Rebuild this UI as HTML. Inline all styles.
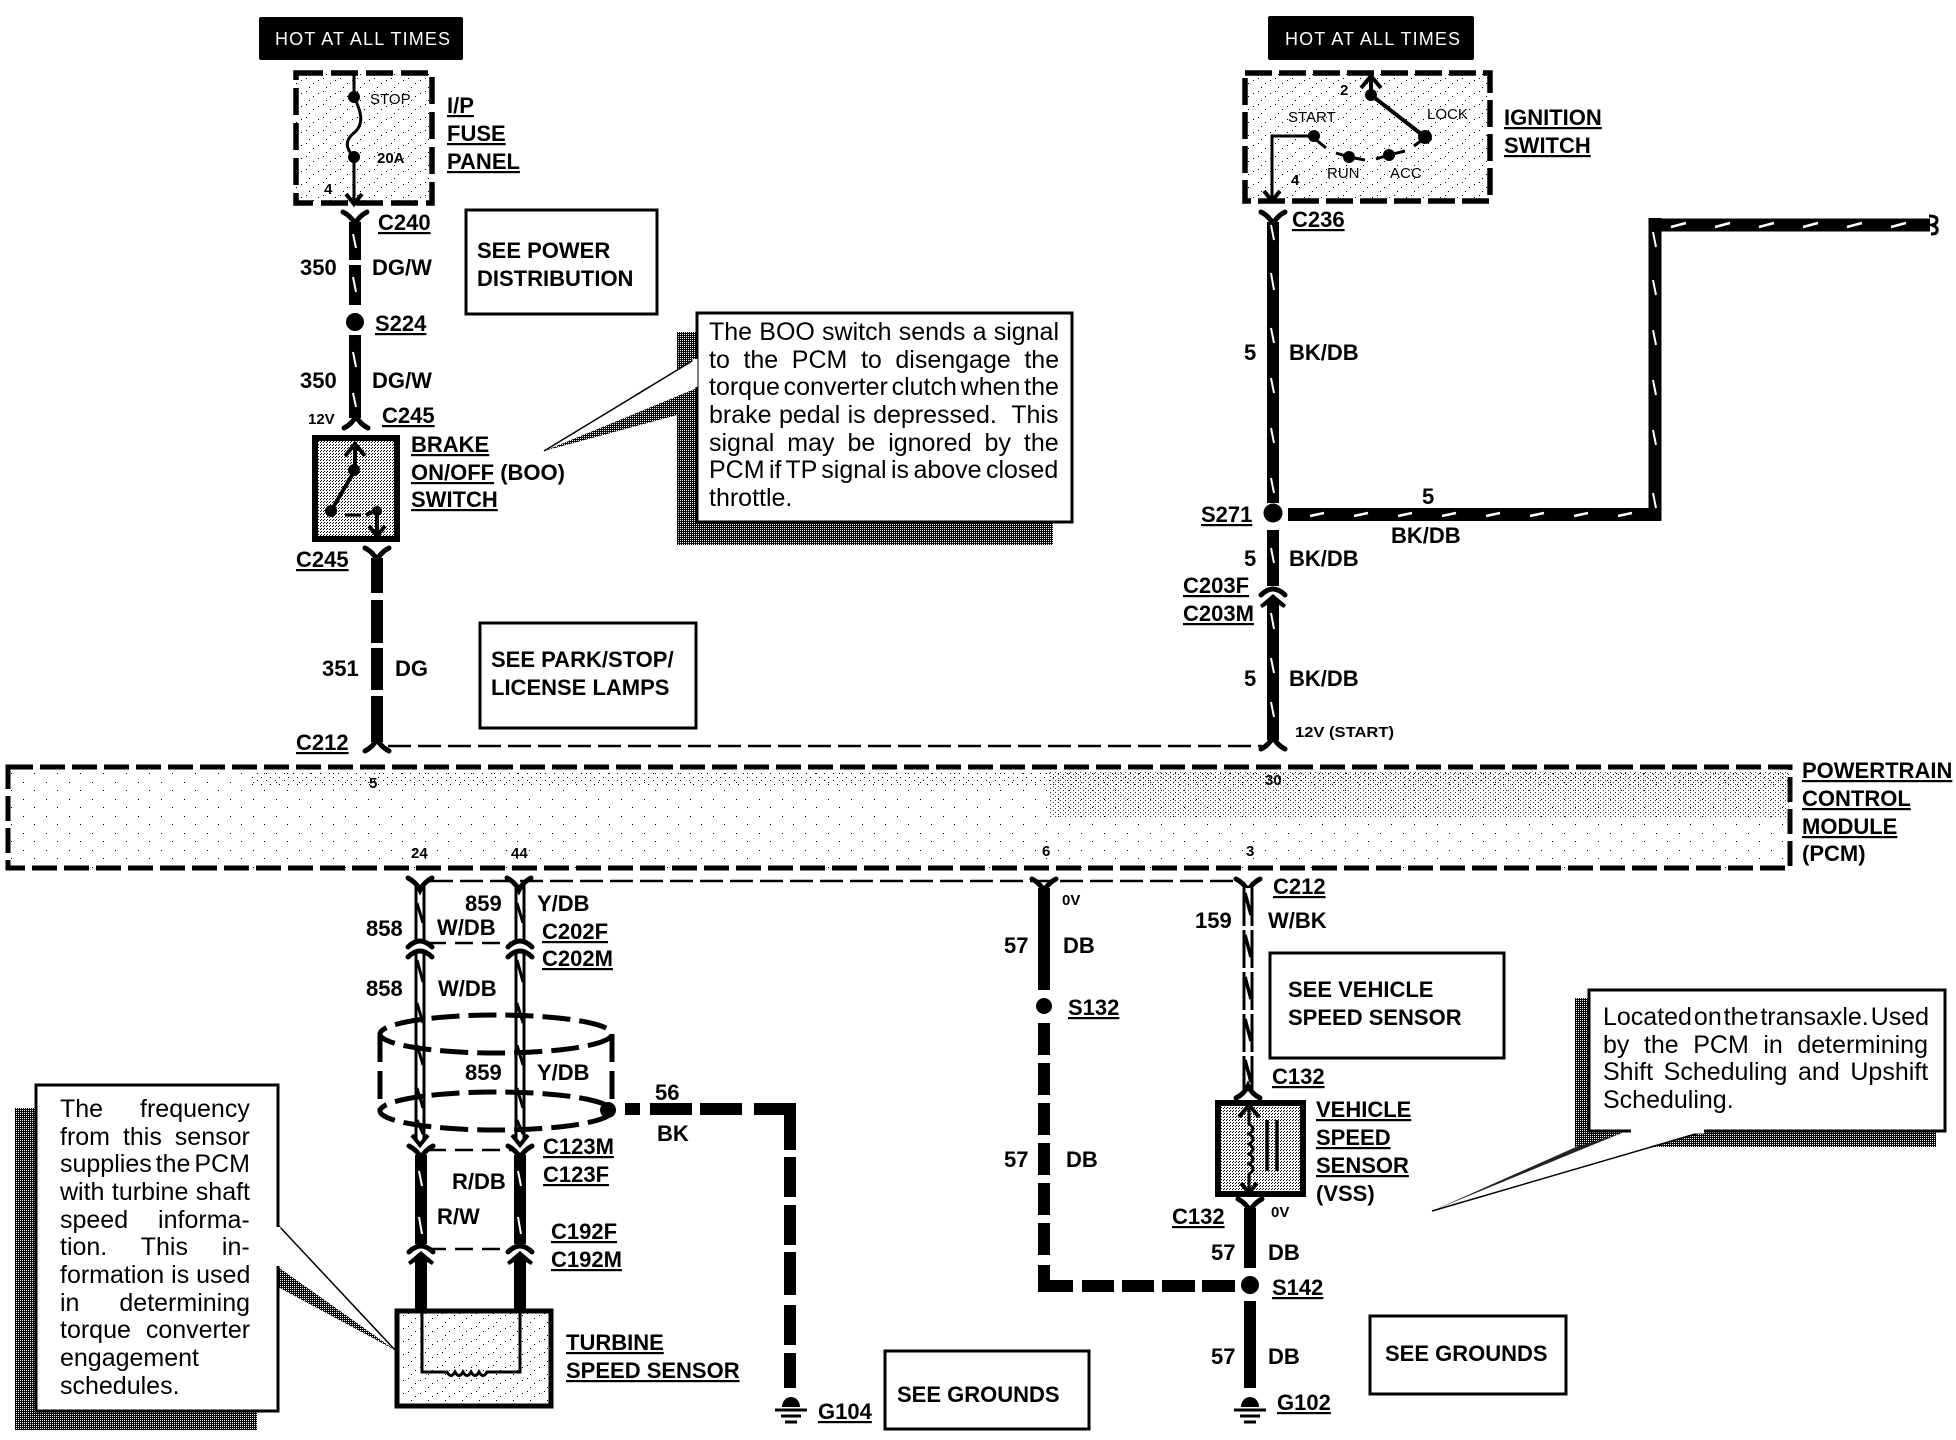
<!DOCTYPE html>
<html>
<head>
<meta charset="utf-8">
<title>Wiring diagram</title>
<style>
html,body{margin:0;padding:0;background:#fff;}
svg{display:block;}
text{font-family:"Liberation Sans",Arial,sans-serif;fill:#000;}
.b{font-weight:bold;font-size:22px;}
.u{text-decoration:underline;}
.s{font-weight:bold;font-size:15px;}
.t{font-size:15px;}
.c{font-size:25px;}
.h{font-size:18px;fill:#fff;}
</style>
</head>
<body>
<svg xmlns="http://www.w3.org/2000/svg" width="1956" height="1440" viewBox="0 0 1956 1440">
<defs>
<pattern id="shade" width="2" height="2" patternUnits="userSpaceOnUse"><rect width="2" height="2" fill="#000"/><rect width="1" height="1" fill="#fff"/></pattern>
<pattern id="dense" width="3" height="3" patternUnits="userSpaceOnUse"><rect width="1" height="1" fill="#000"/><rect x="2" y="1" width="1" height="1" fill="#000"/></pattern>
<pattern id="sparse" width="17" height="13" patternUnits="userSpaceOnUse"><rect width="1" height="1" fill="#000"/><rect x="7" y="5" width="1" height="1" fill="#000"/><rect x="12" y="2" width="1" height="1" fill="#000"/><rect x="3" y="9" width="1" height="1" fill="#000"/></pattern>
<pattern id="pcm1" width="23" height="17" patternUnits="userSpaceOnUse"><rect width="1" height="1" fill="#000"/><rect x="11" y="8" width="1" height="1" fill="#000"/></pattern>
<pattern id="pcm2" width="9" height="7" patternUnits="userSpaceOnUse"><rect width="1" height="1" fill="#000"/><rect x="5" y="3" width="1" height="1" fill="#000"/></pattern>
<pattern id="pcm3" width="5" height="4" patternUnits="userSpaceOnUse"><rect width="1" height="1" fill="#000"/><rect x="3" y="2" width="1" height="1" fill="#000"/></pattern>
<path id="yd" d="M-12 -6Q-4 -2 0 6Q4 -2 12 -6" fill="none" stroke="#000" stroke-width="5" stroke-linecap="round"/>
<path id="yu" d="M-12 6Q-4 2 0 -6Q4 2 12 6" fill="none" stroke="#000" stroke-width="5" stroke-linecap="round"/>
<path id="arcd" d="M-12 5Q0 -7 12 5" fill="none" stroke="#000" stroke-width="5" stroke-linecap="round"/>
<path id="marr" d="M0 -7L13 4L11 7L6 4V12H-6V4L-11 7L-13 4Z" fill="#000"/>
<path id="chev" d="M-10 8L0 -4L10 8" fill="none" stroke="#000" stroke-width="4"/>
<path id="chevd" d="M-8 -8L0 2L8 -8" fill="none" stroke="#000" stroke-width="4"/>
<g id="gnd"><path d="M-9 0a9 10 0 0 1 18 0z" fill="#000"/><path d="M-16 3H16M-10 9H10M-6 15H6" stroke="#000" stroke-width="3" fill="none"/></g>
</defs>

<!-- HOT boxes -->
<rect x="259" y="17" width="204" height="43" rx="2" fill="#000"/>
<text class="h" x="275" y="45" textLength="175" lengthAdjust="spacing">HOT AT ALL TIMES</text>
<rect x="1268" y="16" width="206" height="44" rx="2" fill="#000"/>
<text class="h" x="1285" y="45" textLength="175" lengthAdjust="spacing">HOT AT ALL TIMES</text>

<!-- I/P fuse panel -->
<rect x="296" y="73" width="136" height="130" fill="url(#sparse)"/>
<rect x="296" y="73" width="136" height="130" fill="none" stroke="#000" stroke-width="5.5" stroke-dasharray="27 8"/>
<path d="M354 73V97C363 115 363 125 354 133C345 140 345 148 354 157V203" fill="none" stroke="#000" stroke-width="3"/>
<circle cx="354" cy="97" r="6"/><circle cx="354" cy="157" r="6"/>
<use href="#chevd" x="354" y="202"/>
<text class="t" x="370" y="104">STOP</text>
<text class="t" x="377" y="163" font-weight="bold">20A</text>
<text class="t" x="324" y="194" font-weight="bold">4</text>
<text class="b u" x="447" y="113">I/P</text>
<text class="b u" x="447" y="141">FUSE</text>
<text class="b u" x="447" y="169">PANEL</text>

<use href="#yd" x="355" y="218"/>
<path d="M355 222V260M355 265V305M355 335V418" stroke="#000" stroke-width="12" fill="none"/>
<path d="M353 234l3 14M353 277l3 15M353 352l3 15M353 393l3 14" stroke="#fff" stroke-width="2" fill="none"/>
<circle cx="355" cy="322" r="9"/>
<use href="#yu" x="356" y="422"/>
<text class="b u" x="378" y="230">C240</text>
<text class="b" x="300" y="275">350</text><text class="b" x="372" y="275">DG/W</text>
<text class="b u" x="375" y="331">S224</text>
<text class="b" x="300" y="388">350</text><text class="b" x="372" y="388">DG/W</text>
<text class="s" x="308" y="424" font-size="15">12V</text>
<text class="b u" x="382" y="423">C245</text>

<!-- See power -->
<rect x="466" y="210" width="191" height="104" fill="#fff" stroke="#000" stroke-width="3"/>
<text class="b" x="477" y="258">SEE POWER</text>
<text class="b" x="477" y="286">DISTRIBUTION</text>

<!-- Brake switch -->
<rect x="315" y="438" width="82" height="101" fill="url(#dense)"/>
<rect x="315" y="438" width="82" height="101" fill="none" stroke="#000" stroke-width="6"/>
<path d="M355 445V470L331 511" fill="none" stroke="#000" stroke-width="4"/>
<path d="M345 515H361" fill="none" stroke="#000" stroke-width="3"/>
<path d="M366 515Q372 512 377 510V534" fill="none" stroke="#000" stroke-width="4"/>
<circle cx="354" cy="470" r="6"/><circle cx="331" cy="511" r="6"/><circle cx="377" cy="511" r="5"/>
<use href="#chev" x="355" y="448"/><use href="#chevd" x="377" y="534"/>
<text class="b u" x="411" y="452">BRAKE</text>
<text class="b" x="411" y="480"><tspan class="u">ON/OFF</tspan> (BOO)</text>
<text class="b u" x="411" y="507">SWITCH</text>

<!-- C245 to C212 -->
<use href="#yd" x="377" y="554"/>
<path d="M377 558V593M377 600V643M377 648V690M377 696V742" stroke="#000" stroke-width="12" fill="none"/>
<use href="#yu" x="377" y="745"/>
<text class="b u" x="296" y="567">C245</text>
<text class="b" x="322" y="676">351</text><text class="b" x="395" y="676">DG</text>
<text class="b u" x="296" y="750">C212</text>
<path d="M388 746H1262" fill="none" stroke="#000" stroke-width="2.5" stroke-dasharray="23 7"/>

<rect x="480" y="623" width="216" height="105" fill="#fff" stroke="#000" stroke-width="3"/>
<text class="b" x="491" y="667">SEE PARK/STOP/</text>
<text class="b" x="491" y="695">LICENSE LAMPS</text>

<!-- BOO callout -->
<rect x="677" y="332" width="376" height="213" fill="url(#shade)"/>
<polygon points="544,451 697,388 697,400 677,415" fill="url(#shade)"/>
<polygon points="544,451 697,358 697,388" fill="#fff"/>
<path d="M544 451L697 358" stroke="#000" stroke-width="1.5" fill="none"/>
<rect x="697" y="313" width="375" height="209" fill="#fff" stroke="#000" stroke-width="3"/>
<path d="M695 359V387" stroke="#fff" stroke-width="5"/>
<text class="c" x="709" y="340" word-spacing="0.25">The BOO switch sends a signal</text>
<text class="c" x="709" y="368" word-spacing="6.65">to the PCM to disengage the</text>
<text class="c" x="709" y="395" word-spacing="-3.2">torque converter clutch when the</text>
<text class="c" x="709" y="423" word-spacing="0.5">brake pedal is depressed.&#160; This</text>
<text class="c" x="709" y="451" word-spacing="6">signal may be ignored by the</text>
<text class="c" x="709" y="478" word-spacing="-2.55">PCM if TP signal is above closed</text>
<text class="c" x="709" y="506">throttle.</text>

<!-- Ignition switch -->
<rect x="1245" y="73" width="245" height="128" fill="url(#sparse)"/>
<rect x="1245" y="73" width="245" height="128" fill="none" stroke="#000" stroke-width="5.5" stroke-dasharray="27 7"/>
<path d="M1371 74V95L1425 137" fill="none" stroke="#000" stroke-width="4"/>
<use href="#chev" x="1371" y="80"/>
<circle cx="1371" cy="95" r="6"/><circle cx="1425" cy="137" r="7"/>
<path d="M1314 136H1272V198" fill="none" stroke="#000" stroke-width="3"/>
<use href="#chevd" x="1272" y="199"/>
<circle cx="1314" cy="136" r="6"/><circle cx="1349" cy="157" r="6"/><circle cx="1389" cy="155" r="6"/>
<path d="M1314 138L1326 148M1336 153L1349 157L1365 160M1376 159L1389 155L1405 151M1414 146L1425 138" fill="none" stroke="#000" stroke-width="3"/>
<text class="t" x="1288" y="122">START</text>
<text class="t" x="1427" y="119">LOCK</text>
<text class="t" x="1327" y="178">RUN</text>
<text class="t" x="1390" y="178">ACC</text>
<text class="t" x="1340" y="95" font-weight="bold">2</text>
<text class="t" x="1291" y="185" font-weight="bold">4</text>
<text class="b u" x="1504" y="125">IGNITION</text>
<text class="b u" x="1504" y="153">SWITCH</text>

<use href="#yd" x="1273" y="218"/>
<path d="M1273 222V503M1273 530V586M1273 604V740" stroke="#000" stroke-width="12" fill="none"/>
<use href="#arcd" x="1273" y="590"/><use href="#marr" x="1273" y="601"/>
<use href="#yu" x="1273" y="743"/>
<path d="M1271 225l3 15M1271 273l3 17M1271 328l3 15M1271 378l3 15M1271 428l3 15M1271 478l3 15M1271 548l3 15M1271 613l3 16M1271 658l3 15M1271 702l3 15" stroke="#fff" stroke-width="2" fill="none"/>
<circle cx="1273" cy="513" r="9.5"/>
<path d="M1288 514.5H1661M1655 521V218M1649 225H1930" stroke="#000" stroke-width="13" fill="none"/>
<path d="M1653 232l3 15M1653 280l3 15M1653 330l3 15M1653 380l3 15M1653 430l3 15M1653 493l3 15" stroke="#fff" stroke-width="2" fill="none"/>
<path d="M1310 516l14 -3M1354 516l14 -3M1398 516l14 -3M1442 516l14 -3M1486 516l14 -3M1530 516l14 -3M1574 516l14 -3M1618 516l14 -3M1671 227l15 -4M1715 227l15 -4M1759 227l15 -4M1803 227l15 -4M1847 227l15 -4M1891 227l15 -4" stroke="#fff" stroke-width="2.5" fill="none"/>
<path d="M1929 216q8 0 8 4q0 4 -5 5q6 2 5 6q0 3 -6 3" fill="none" stroke="#000" stroke-width="3"/>
<text class="b u" x="1292" y="227">C236</text>
<text class="b" x="1244" y="360">5</text><text class="b" x="1289" y="360">BK/DB</text>
<text class="b" x="1422" y="504">5</text><text class="b" x="1391" y="543">BK/DB</text>
<text class="b u" x="1201" y="522">S271</text>
<text class="b" x="1244" y="566">5</text><text class="b" x="1289" y="566">BK/DB</text>
<text class="b u" x="1183" y="593">C203F</text>
<text class="b u" x="1183" y="621">C203M</text>
<text class="b" x="1244" y="686">5</text><text class="b" x="1289" y="686">BK/DB</text>
<text class="s" x="1295" y="737" textLength="99" lengthAdjust="spacingAndGlyphs">12V (START)</text>

<!-- PCM -->
<rect x="8" y="767" width="1782" height="101" fill="url(#pcm1)"/>
<rect x="250" y="771" width="1540" height="16" fill="url(#pcm2)"/>
<rect x="1050" y="771" width="740" height="46" fill="url(#pcm3)" opacity=".8"/>
<rect x="8" y="767" width="1782" height="101" fill="none" stroke="#000" stroke-width="5" stroke-dasharray="25 7"/>
<text class="s" x="369" y="788">5</text>
<text class="s" x="1265" y="785">30</text>
<text class="s" x="411" y="858">24</text>
<text class="s" x="511" y="858">44</text>
<text class="s" x="1042" y="856">6</text>
<text class="s" x="1246" y="856">3</text>
<text class="b u" x="1802" y="778">POWERTRAIN</text>
<text class="b u" x="1802" y="806">CONTROL</text>
<text class="b u" x="1802" y="834">MODULE</text>
<text class="b" x="1802" y="861">(PCM)</text>

<path d="M430 881H1240" fill="none" stroke="#000" stroke-width="2.5" stroke-dasharray="23 7"/>

<!-- 858 / 859 wires -->
<g fill="none">
<path d="M420 885V940M420 952V1140M520 885V940M520 952V1140" stroke="#000" stroke-width="11"/>
<path d="M420 885V940M420 952V1140M520 885V940M520 952V1140" stroke="#fff" stroke-width="5"/>
<path d="M417 903l6 20M417 960l6 22M417 1003l6 20M417 1045l6 20M417 1088l6 20M417 1120l6 14M517 903l6 20M517 960l6 22M517 1003l6 20M517 1045l6 20M517 1088l6 20M517 1120l6 14" stroke="#000" stroke-width="3"/>
<path d="M428 943H512M428 1150H512M428 1249H512" stroke="#000" stroke-width="2.5" stroke-dasharray="18 9"/>
<path d="M421 1155V1244M520 1155V1244M421 1262V1310M520 1262V1310" stroke="#000" stroke-width="12"/>
<path d="M419 1171l3 15M419 1217l3 17M518 1171l3 15M518 1217l3 17" stroke="#fff" stroke-width="2"/>
</g>
<use href="#yd" x="420" y="884"/><use href="#yd" x="519" y="884"/>
<use href="#arcd" x="420" y="942"/><use href="#arcd" x="520" y="942"/>
<use href="#arcd" x="420" y="952"/><use href="#arcd" x="520" y="952"/>
<use href="#chevd" x="420" y="1143"/><use href="#chevd" x="520" y="1143"/>
<use href="#yd" x="421" y="1152"/><use href="#yd" x="520" y="1152"/>
<use href="#arcd" x="421" y="1247"/><use href="#arcd" x="520" y="1247"/>
<use href="#marr" x="421" y="1258"/><use href="#marr" x="520" y="1258"/>

<!-- Shield -->
<g fill="none" stroke="#000" stroke-width="5" stroke-dasharray="28 9">
<ellipse cx="496" cy="1034" rx="116" ry="19"/>
<ellipse cx="496" cy="1111" rx="116" ry="19"/>
<path d="M380 1034V1111M612 1034V1111"/>
</g>
<circle cx="608" cy="1110" r="8"/>
<path d="M625 1109H640M650 1109H692M700 1109H742M754 1109H796" stroke="#000" stroke-width="12" fill="none"/>
<path d="M790 1103V1150M790 1157V1197M790 1205V1245M790 1252V1295M790 1305V1345M790 1353V1388" stroke="#000" stroke-width="12" fill="none"/>

<text class="b" x="465" y="911">859</text><text class="b" x="537" y="911">Y/DB</text>
<text class="b" x="366" y="936">858</text><text class="b" x="437" y="935">W/DB</text>
<text class="b u" x="542" y="939">C202F</text>
<text class="b u" x="542" y="966">C202M</text>
<text class="b" x="366" y="996">858</text><text class="b" x="438" y="996">W/DB</text>
<text class="b" x="465" y="1080">859</text><text class="b" x="537" y="1080">Y/DB</text>
<text class="b" x="655" y="1100">56</text><text class="b" x="657" y="1141">BK</text>
<text class="b u" x="543" y="1154">C123M</text>
<text class="b u" x="543" y="1182">C123F</text>
<text class="b" x="452" y="1189">R/DB</text>
<text class="b" x="437" y="1224">R/W</text>
<text class="b u" x="551" y="1239">C192F</text>
<text class="b u" x="551" y="1267">C192M</text>

<!-- Left callout -->
<rect x="15" y="1108" width="242" height="322" fill="url(#shade)"/>
<polygon points="278,1267 395,1350 278,1287" fill="url(#shade)"/>
<line x1="278" y1="1225" x2="395" y2="1350" stroke="#000" stroke-width="1.5"/>
<rect x="36" y="1085" width="242" height="326" fill="#fff" stroke="#000" stroke-width="3"/>
<path d="M278 1227V1266" stroke="#fff" stroke-width="5"/>
<text class="c" x="60" y="1117" word-spacing="30">The frequency</text>
<text class="c" x="60" y="1145" word-spacing="6">from this sensor</text>
<text class="c" x="60" y="1172" word-spacing="-3">supplies the PCM</text>
<text class="c" x="60" y="1200" word-spacing="0.5">with turbine shaft</text>
<text class="c" x="60" y="1228" word-spacing="23">speed informa-</text>
<text class="c" x="60" y="1255" word-spacing="27">tion. This in-</text>
<text class="c" x="60" y="1283" word-spacing="0">formation is used</text>
<text class="c" x="60" y="1311" word-spacing="33">in determining</text>
<text class="c" x="60" y="1338" word-spacing="8">torque converter</text>
<text class="c" x="60" y="1366">engagement</text>
<text class="c" x="60" y="1394">schedules.</text>

<!-- Turbine sensor -->
<rect x="397" y="1311" width="154" height="95" fill="url(#sparse)"/>
<rect x="397" y="1311" width="154" height="95" fill="none" stroke="#000" stroke-width="5"/>
<path d="M422 1311V1372H447q4 7 8 0q4 7 8 0q4 7 8 0q4 7 8 0q4 7 8 0H520V1311" fill="none" stroke="#000" stroke-width="3"/>
<text class="b u" x="566" y="1350">TURBINE</text>
<text class="b u" x="566" y="1378">SPEED SENSOR</text>

<use href="#gnd" x="791" y="1407"/>
<text class="b u" x="818" y="1419">G104</text>
<rect x="885" y="1351" width="204" height="78" fill="#fff" stroke="#000" stroke-width="3"/>
<text class="b" x="897" y="1402">SEE GROUNDS</text>

<!-- Wire 57 left -->
<use href="#yd" x="1044" y="885"/>
<path d="M1044 888V990M1044 1023V1055M1044 1063V1095M1044 1103V1135M1044 1143V1175M1044 1183V1215M1044 1223V1255M1044 1265V1292" stroke="#000" stroke-width="12" fill="none"/>
<path d="M1038 1286H1073M1082 1286H1114M1122 1286H1154M1162 1286H1195M1202 1286H1235" stroke="#000" stroke-width="12" fill="none"/>
<circle cx="1044" cy="1006" r="8"/>
<circle cx="1250" cy="1285" r="9"/>
<text class="s" x="1062" y="905">0V</text>
<text class="b" x="1004" y="953">57</text><text class="b" x="1063" y="953">DB</text>
<text class="b u" x="1068" y="1015">S132</text>
<text class="b" x="1004" y="1167">57</text><text class="b" x="1066" y="1167">DB</text>

<!-- W/BK wire -->
<use href="#yd" x="1248" y="885"/>
<g fill="none">
<path d="M1248 888V1090" stroke="#000" stroke-width="11" stroke-dasharray="38 4"/>
<path d="M1248 888V1090" stroke="#fff" stroke-width="5"/>
<path d="M1245 893l6 22M1245 935l6 22M1245 977l6 22M1245 1019l6 22M1245 1060l6 22" stroke="#000" stroke-width="3.5"/>
</g>
<use href="#yu" x="1248" y="1092"/>
<text class="b" x="1195" y="928">159</text><text class="b" x="1268" y="928">W/BK</text>
<text class="b u" x="1273" y="894">C212</text>
<rect x="1270" y="953" width="234" height="105" fill="#fff" stroke="#000" stroke-width="3"/>
<text class="b" x="1288" y="997">SEE VEHICLE</text>
<text class="b" x="1288" y="1025">SPEED SENSOR</text>
<text class="b u" x="1272" y="1084">C132</text>

<!-- VSS -->
<rect x="1218" y="1103" width="85" height="91" fill="url(#dense)"/>
<rect x="1218" y="1103" width="85" height="91" fill="none" stroke="#000" stroke-width="6"/>
<path d="M1249 1107V1124q8 5 0 10q8 5 0 10q8 5 0 10q8 5 0 10q8 5 0 10V1191" fill="none" stroke="#000" stroke-width="3"/>
<path d="M1267 1120V1171M1277 1120V1171" stroke="#000" stroke-width="3.5" fill="none"/>
<use href="#chev" x="1249" y="1109"/><use href="#chevd" x="1249" y="1191"/>
<text class="b u" x="1316" y="1117">VEHICLE</text>
<text class="b u" x="1316" y="1145">SPEED</text>
<text class="b u" x="1316" y="1173">SENSOR</text>
<text class="b" x="1316" y="1201">(VSS)</text>
<use href="#yd" x="1250" y="1205"/>
<path d="M1250 1208V1268M1250 1301V1388" stroke="#000" stroke-width="12" fill="none"/>
<text class="b u" x="1172" y="1224">C132</text>
<text class="s" x="1271" y="1217">0V</text>
<text class="b" x="1211" y="1260">57</text><text class="b" x="1268" y="1260">DB</text>
<text class="b u" x="1272" y="1295">S142</text>
<text class="b" x="1211" y="1364">57</text><text class="b" x="1268" y="1364">DB</text>
<use href="#gnd" x="1250" y="1407"/>
<text class="b u" x="1277" y="1410">G102</text>
<rect x="1370" y="1316" width="196" height="78" fill="#fff" stroke="#000" stroke-width="3"/>
<text class="b" x="1385" y="1361">SEE GROUNDS</text>

<!-- VSS callout -->
<rect x="1575" y="998" width="361" height="149" fill="url(#shade)"/>
<polygon points="1432,1211 1576,1147 1629,1131" fill="#222"/>
<polygon points="1432,1211 1629,1130 1706,1130" fill="#fff"/>
<line x1="1432" y1="1211" x2="1706" y2="1131" stroke="#000" stroke-width="1.5"/>
<rect x="1589" y="990" width="356" height="141" fill="#fff" stroke="#000" stroke-width="3"/>
<path d="M1631 1131H1704" stroke="#fff" stroke-width="5"/>
<text class="c" x="1603" y="1025" word-spacing="-5">Located on the transaxle. Used</text>
<text class="c" x="1603" y="1053" word-spacing="7.6">by the PCM in determining</text>
<text class="c" x="1603" y="1080" word-spacing="3.7">Shift Scheduling and Upshift</text>
<text class="c" x="1603" y="1108">Scheduling.</text>
</svg>
</body>
</html>
